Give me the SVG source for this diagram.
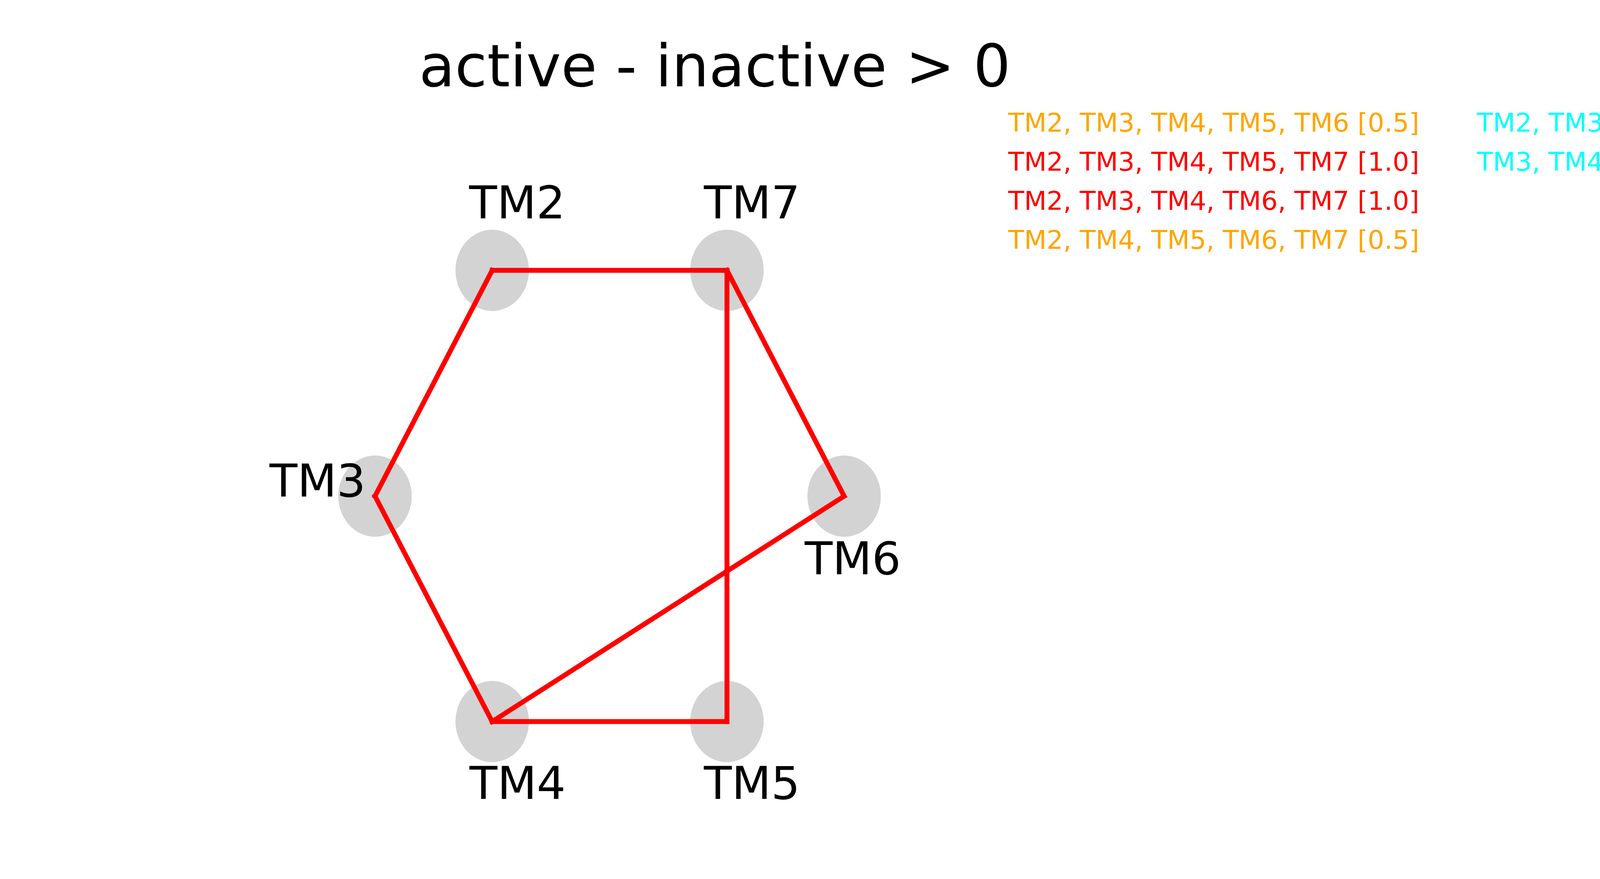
<svg xmlns="http://www.w3.org/2000/svg" width="7200" height="2250" viewBox="0 0 7200 2250">
<style>
text { font-family: "DejaVu Sans", sans-serif; }
.title { font-size: 150px; fill: #000; text-anchor: middle; }
.lbl { font-size: 116.7px; fill: #000; }
.leg { font-size: 66.7px; }
.node { fill: #d3d3d3; }
.edge { stroke: #ff0000; stroke-width: 12.5; stroke-linecap: square; fill: none; }
</style>
<rect x="0" y="0" width="7200" height="2250" fill="#ffffff"/>
<text class="title" x="1830" y="221">active - inactive &gt; 0</text>
<text class="title" x="5548" y="221">active - inactive &lt; 0</text>
<g id="legend">
<text class="leg" x="2581" y="337" fill="#ffa500">TM2, TM3, TM4, TM5, TM6 [0.5]</text>
<text class="leg" x="2581" y="437" fill="#ff0000">TM2, TM3, TM4, TM5, TM7 [1.0]</text>
<text class="leg" x="2581" y="537" fill="#ff0000">TM2, TM3, TM4, TM6, TM7 [1.0]</text>
<text class="leg" x="2581" y="637" fill="#ffa500">TM2, TM4, TM5, TM6, TM7 [0.5]</text>
<text class="leg" x="3781" y="337" fill="#00ffff">TM2, TM3, TM5, TM6, TM7 [-0.5]</text>
<text class="leg" x="3781" y="437" fill="#00ffff">TM3, TM4, TM5, TM6, TM7 [-0.5]</text>
</g>
<g id="left-nodes">
<g id="L-TM2"><ellipse class="node" cx="1260" cy="692" rx="94" ry="104"/></g>
<g id="L-TM7"><ellipse class="node" cx="1861" cy="692" rx="94" ry="104"/></g>
<g id="L-TM3"><ellipse class="node" cx="960" cy="1270" rx="94" ry="104"/></g>
<g id="L-TM6"><ellipse class="node" cx="2161" cy="1270" rx="94" ry="104"/></g>
<g id="L-TM4"><ellipse class="node" cx="1260" cy="1847" rx="94" ry="104"/></g>
<g id="L-TM5"><ellipse class="node" cx="1861" cy="1847" rx="94" ry="104"/></g>
</g>
<g id="connectors">
<line class="edge" x1="1260" y1="692" x2="1861" y2="692"/>
<line class="edge" x1="1260" y1="692" x2="960" y2="1270"/>
<line class="edge" x1="960" y1="1270" x2="1260" y2="1847"/>
<line class="edge" x1="1260" y1="1847" x2="1861" y2="1847"/>
<line class="edge" x1="1861" y1="1847" x2="1861" y2="692"/>
<line class="edge" x1="1861" y1="692" x2="2161" y2="1270"/>
<line class="edge" x1="2161" y1="1270" x2="1260" y2="1847"/>
</g>
<g id="left-labels">
<text class="lbl" x="1201" y="559">TM2</text>
<text class="lbl" x="1802" y="559">TM7</text>
<text class="lbl" x="690" y="1271">TM3</text>
<text class="lbl" x="2060" y="1470">TM6</text>
<text class="lbl" x="1202" y="2045">TM4</text>
<text class="lbl" x="1802" y="2045">TM5</text>
</g>
<g id="right-nodes">
<g id="R-TM2"><ellipse class="node" cx="5518" cy="692" rx="94" ry="104"/><text class="lbl" x="5459" y="559">TM2</text></g>
<g id="R-TM7"><ellipse class="node" cx="6119" cy="692" rx="94" ry="104"/><text class="lbl" x="6060" y="559">TM7</text></g>
<g id="R-TM3"><ellipse class="node" cx="5218" cy="1270" rx="94" ry="104"/><text class="lbl" x="4948" y="1271">TM3</text></g>
<g id="R-TM6"><ellipse class="node" cx="6419" cy="1270" rx="94" ry="104"/><text class="lbl" x="6318" y="1470">TM6</text></g>
<g id="R-TM4"><ellipse class="node" cx="5518" cy="1847" rx="94" ry="104"/><text class="lbl" x="5460" y="2045">TM4</text></g>
<g id="R-TM5"><ellipse class="node" cx="6119" cy="1847" rx="94" ry="104"/><text class="lbl" x="6060" y="2045">TM5</text></g>
</g>
</svg>
